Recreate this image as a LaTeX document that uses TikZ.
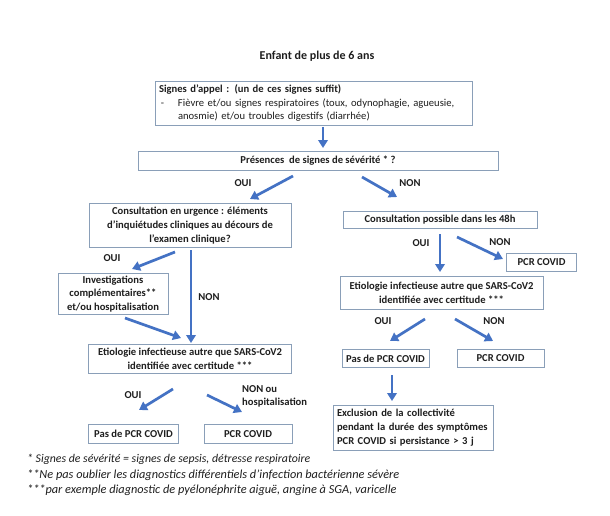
\documentclass[tikz,border=0pt]{standalone}
\usepackage{fontspec}
\setmainfont{Carlito}
\usetikzlibrary{arrows.meta,shadows}
\definecolor{boxc}{HTML}{8A9FB8}
\definecolor{arrc}{HTML}{4472C4}
\definecolor{txtc}{HTML}{1E1E1E}
\newcommand{\bxfont}{\fontsize{10.6}{13.8}\selectfont\bfseries}
\tikzset{
  box/.style={draw=boxc, line width=0.9pt, fill=white, inner sep=0pt, align=center,
    font=\bxfont, text=txtc, drop shadow={shadow xshift=0.8pt, shadow yshift=-0.8pt, opacity=0.25, fill=gray}},
  arr/.style={draw=arrc, line width=2.7pt, -{Triangle[width=9.5pt,length=8pt]}},
  lbl/.style={font=\bxfont, text=txtc, inner sep=0pt},
  foot/.style={font=\fontsize{11.8}{13}\selectfont\itshape, text=txtc, inner sep=0pt, anchor=west},
  footb/.style={foot, font=\fontsize{12.3}{13}\selectfont\itshape}
}
\begin{document}
\begin{tikzpicture}[x=1pt,y=-1pt]
\useasboundingbox[fill=white] (0,0) rectangle (610,516);

\node[lbl, font=\fontsize{12}{14}\selectfont\bfseries] (title) at (317,56) {Enfant de plus de 6 ans};

% Box A
\node[box, align=left, text width=309pt, inner xsep=4pt, minimum height=44pt] (A) at (313.5,103)
 {Signes d’appel : (un de ces signes suffit)\\
  \mdseries\makebox[19pt][l]{\,-}Fièvre et/ou signes respiratoires (toux, odynophagie, agueusie,\\
  \mdseries\hspace*{19pt}anosmie) et/ou troubles digestifs (diarrhée)};

\node[box, minimum width=360pt, minimum height=19pt] (B) at (318,160.5) {Présences~ de signes de sévérité * ?};

\node[box, minimum width=202pt, minimum height=44pt] (C) at (190,225.5)
 {Consultation en urgence : éléments\\d’inquiétudes cliniques au décours de\\l’examen clinique?};

\node[box, minimum width=110pt, minimum height=41pt] (D) at (113,294)
 {Investigations\\complémentaires**\\et/ou hospitalisation};

\node[box, minimum width=203pt, minimum height=29pt] (E) at (190,359)
 {Etiologie infectieuse autre que SARS-CoV2\\identifiée avec certitude ***};

\node[box, minimum width=90pt, minimum height=19pt] (F) at (133.5,434) {Pas de PCR COVID};
\node[box, minimum width=88pt, minimum height=19pt] (G) at (248,434) {PCR COVID};

\node[box, minimum width=194pt, minimum height=17pt] (H) at (440,220) {Consultation possible dans les 48h};
\node[box, minimum width=70pt, minimum height=18pt] (I) at (541.5,262) {PCR COVID};

\node[box, minimum width=203pt, minimum height=33pt] (J) at (441.5,293)
 {Etiologie infectieuse autre que SARS-CoV2\\identifiée avec certitude ***};

\node[box, minimum width=87pt, minimum height=18pt] (K) at (385.5,358.5) {Pas de PCR COVID};
\node[box, minimum width=87pt, minimum height=18pt] (L) at (500.5,358.5) {PCR COVID};

\node[box, align=left, text width=152pt, inner xsep=4pt, minimum height=45pt] (M) at (413,427.5)
 {Exclusion de la collectivité\\pendant la durée des symptômes\\PCR COVID si persistance > 3 j};

% arrow end points
\coordinate (a1) at (323,127);  \coordinate (b1) at (323,148);
\coordinate (a2) at (293,176);  \coordinate (b2) at (250,199);
\coordinate (a3) at (362,177);  \coordinate (b3) at (397,197);
\coordinate (a4) at (175,252);  \coordinate (b4) at (132,269);
\coordinate (a5) at (191,250);  \coordinate (b5) at (191,343);
\coordinate (a6) at (125,318);  \coordinate (b6) at (181,338);
\coordinate (a7) at (173,389);  \coordinate (b7) at (139,410);
\coordinate (a8) at (207,395);  \coordinate (b8) at (242,412);
\coordinate (a9) at (440,234);  \coordinate (b9) at (440,272);
\coordinate (a10) at (457,237); \coordinate (b10) at (503,259);
\coordinate (a11) at (425,319); \coordinate (b11) at (390,341);
\coordinate (a12) at (455,319); \coordinate (b12) at (493,341);
\coordinate (a13) at (392,375); \coordinate (b13) at (392,401);

\foreach \i in {1,...,13} { \draw[arr] (a\i) -- (b\i); }

% labels
\node[lbl] (l1) at (243,183) {OUI};
\node[lbl] (l2) at (410,183) {NON};
\node[lbl] (l3) at (112,258) {OUI};
\node[lbl] (l4) at (209,297) {NON};
\node[lbl] (l5) at (133,395) {OUI};
\node[lbl, align=left, anchor=north west] (l6) at (242,385) {NON ou\\hospitalisation};
\node[lbl] (l7) at (421,243) {OUI};
\node[lbl] (l8) at (500,242) {NON};
\node[lbl] (l9) at (383,321) {OUI};
\node[lbl] (l10) at (494,321) {NON};

% footnotes
\node[foot] (f1) at (27,459) {* Signes de sévérité = signes de sepsis, détresse respiratoire};
\node[footb] (f2) at (27,475) {**Ne pas oublier les diagnostics différentiels d’infection bactérienne sévère};
\node[footb] (f3) at (27,490) {***par exemple diagnostic de pyélonéphrite aiguë, angine à SGA, varicelle};
\end{tikzpicture}
\end{document}
